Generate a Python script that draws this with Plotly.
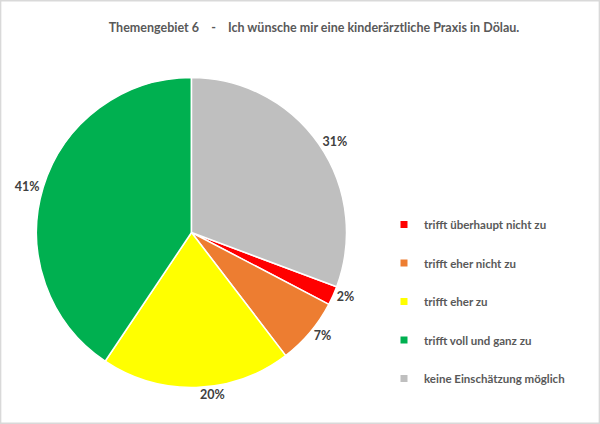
import plotly.graph_objects as go

# Data (legend order)
categories = ["trifft überhaupt nicht zu", "trifft eher nicht zu", "trifft eher zu",
              "trifft voll und ganz zu", "keine Einschätzung möglich"]
values = [2, 7, 20, 41, 31]
colors = ["#FF0000", "#ED7D31", "#FFFF00", "#00B050", "#BFBFBF"]

title_text = "Themengebiet 6&nbsp;&nbsp;&nbsp;&nbsp;-&nbsp;&nbsp;&nbsp;&nbsp;Ich wünsche mir eine kinderärztliche Praxis in Dölau."

W, H = 600, 424
FONT = "Lato"

# gray slice starts at 12 o'clock, red follows it clockwise
rotation = 360 * values[-1] / sum(values)

# pie circle: centre (191.5, 232.5) px, radius 155 px
cx, cy, r = 191.5, 232.5, 155

fig = go.Figure()

fig.add_trace(go.Pie(
    labels=categories,
    values=values,
    sort=False,
    direction="clockwise",
    rotation=rotation,
    marker=dict(colors=colors, line=dict(color="white", width=1.5)),
    texttemplate="%{percent:.0%}",
    textposition="outside",
    textfont=dict(family=FONT, size=12.5, color="#404040", weight="bold"),
    showlegend=False,
    hoverinfo="label+percent",
    domain=dict(x=[(cx - r) / W, (cx + r) / W], y=[1 - (cy + r) / H, 1 - (cy - r) / H]),
))

# legend entries
for cat, col in zip(categories, colors):
    fig.add_trace(go.Scatter(
        x=[None], y=[None], mode="markers", name=cat,
        marker=dict(symbol="square", size=7, color=col),
        legendgroup=cat,
    ))

fig.update_layout(
    width=W, height=H,
    margin=dict(l=0, r=0, t=0, b=0, autoexpand=False),
    paper_bgcolor="white",
    plot_bgcolor="white",
    xaxis=dict(visible=False),
    yaxis=dict(visible=False),
    title=dict(text=title_text, x=314 / W, xanchor="center", y=1 - 28 / H, yanchor="middle",
               font=dict(family=FONT, size=12.5, color="#595959", weight="bold")),
    legend=dict(x=384 / W, y=1 - 210 / H, xanchor="left", yanchor="top",
                font=dict(family=FONT, size=11.5, color="#595959", weight="bold"),
                tracegroupgap=19.5, bgcolor="rgba(0,0,0,0)"),
    shapes=[dict(type="rect", xref="paper", yref="paper", x0=0.001, x1=0.999, y0=0.002, y1=0.998,
                 line=dict(color="#D9D9D9", width=1.5))],
)

fig.write_html("out.html", config={"displayModeBar": False},
               post_script="document.body.style.margin='0';")
